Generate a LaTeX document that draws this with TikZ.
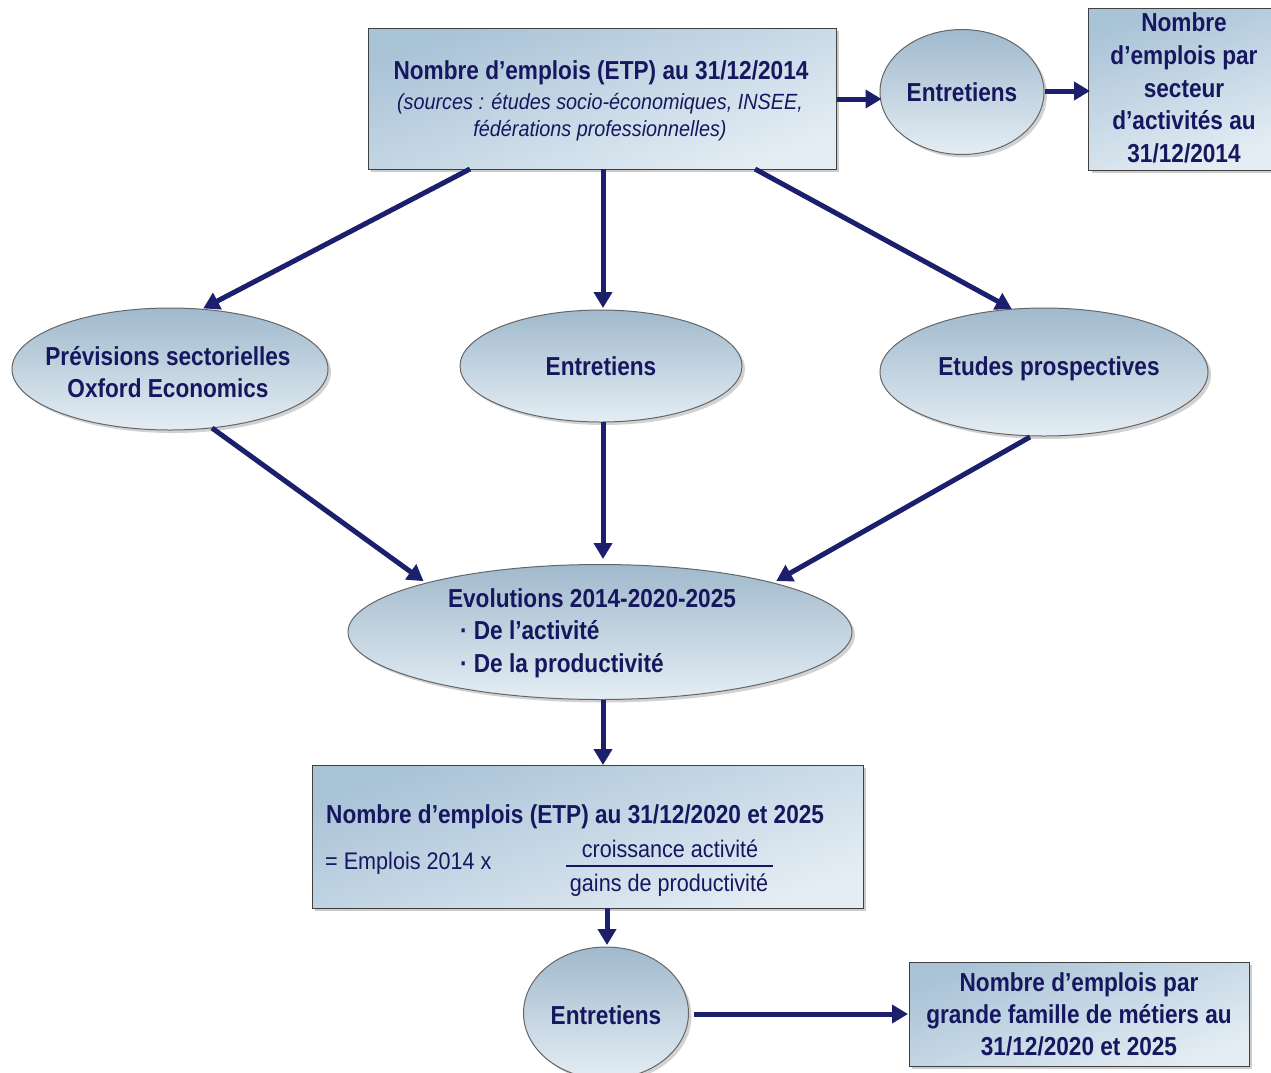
\documentclass[tikz,border=0pt]{standalone}
\usepackage{fontspec}
\setmainfont{Liberation Sans}
\newfontfamily\nb[FakeStretch=0.87]{Liberation Sans}
\newfontfamily\nr[FakeStretch=0.9]{Liberation Sans}
\usetikzlibrary{shapes.geometric,arrows.meta,shadows}
\definecolor{navy}{HTML}{16175E}
\definecolor{arr}{HTML}{1C1F6B}
\definecolor{topc}{HTML}{A9C3D7}
\definecolor{botc}{HTML}{E4EDF4}
\tikzset{
  boxst/.style={draw=black!75, line width=1pt, top color=topc, bottom color=botc, shading angle=20, drop shadow={shadow xshift=3pt, shadow yshift=-3pt, opacity=0.4}, inner sep=0pt},
  ellst/.style={ellipse, draw=black!60, line width=1pt, top color=topc!95!black, bottom color=botc, drop shadow={shadow xshift=3pt, shadow yshift=-3pt, opacity=0.35}, inner sep=0pt},
  txt/.style={text=navy, font=\nb\bfseries\fontsize{26}{33}\selectfont, align=center, inner sep=0pt},
  arrow/.style={draw=arr, line width=5pt, -{Triangle[length=16pt,width=18pt]}, shorten >=-2pt}
}
\begin{document}
\begin{tikzpicture}[x=1pt,y=-1pt]
\useasboundingbox (0,0) rectangle (1271,1072);
\fill[white] (0,0) rectangle (1271,1072);
% top box
\node[boxst, minimum width=468pt, minimum height=141pt] (top) at (602,98.5) {};
\node[txt] (toptxt) at (601,73) {Nombre d’emplois (ETP) au 31/12/2014};
\node[txt, font=\nr\itshape\fontsize{22}{27}\selectfont] (topsrc) at (600,117) {(sources : études socio-économiques, INSEE,\\ fédérations professionnelles)};
% top right
\node[ellst, minimum width=164pt, minimum height=125pt] (ent1) at (962,92) {};
\node[txt] at (ent1) {Entretiens};
\node[boxst, minimum width=185pt, minimum height=162pt] (sect) at (1181,89) {};
\node[txt, font=\nb\bfseries\fontsize{26}{32.6}\selectfont] (secttxt) at (1184,88) {Nombre\\d’emplois par\\secteur\\d’activités au\\31/12/2014};
% middle ellipses
\node[ellst, minimum width=316pt, minimum height=122pt] (prev) at (170,369) {};
\node[txt, font=\nb\bfseries\fontsize{26}{32}\selectfont] at (168,372) {Prévisions sectorielles\\Oxford Economics};
\node[ellst, minimum width=282pt, minimum height=112pt] (ent2) at (601,366) {};
\node[txt] at (ent2) {Entretiens};
\node[ellst, minimum width=328pt, minimum height=128pt] (etud) at (1044,372) {};
\node[txt] at (1049,369) {Etudes prospectives};
% evolutions
\node[ellst, minimum width=504pt, minimum height=135pt] (evo) at (600,632) {};
\node[txt, align=left, font=\nb\bfseries\fontsize{26}{32.5}\selectfont] (evotxt) at (592,633) {Evolutions 2014-2020-2025\\\hspace*{12pt}· De l’activité\\\hspace*{12pt}· De la productivité};
% bottom box
\node[boxst, minimum width=551pt, minimum height=143pt] (bbox) at (587.5,836.5) {};
\node[txt, anchor=west] (btxt) at (326,817) {Nombre d’emplois (ETP) au 31/12/2020 et 2025};
\node[txt, anchor=west, font=\nr\fontsize{24}{26}\selectfont] (beq) at (325,863) {= Emplois 2014 x};
\node[txt, font=\nr\fontsize{24}{26}\selectfont] (bnum) at (670,849) {croissance activité};
\node[txt, font=\nr\fontsize{24}{26}\selectfont] (bden) at (669,885) {gains de productivité};
\draw[navy, line width=1.3pt] (566,866) -- (773,866);
% bottom ellipse + box
\node[ellst, minimum width=165pt, minimum height=132pt] (ent3) at (606,1013) {};
\node[txt] at (606,1015) {Entretiens};
\node[boxst, minimum width=340pt, minimum height=104pt] (fam) at (1079,1014) {};
\node[txt, font=\nb\bfseries\fontsize{26}{32}\selectfont] at (fam) {Nombre d’emplois par\\grande famille de métiers au\\31/12/2020 et 2025};
% arrows
\draw[arrow] (top.east |- 0,99) -- (ent1.west |- 0,99);
\draw[arrow] (ent1.east |- 0,91) -- (sect.west |- 0,91);
\draw[arrow] (470,169) -- (prev.north -| 205,0);
\draw[arrow] (603,169) -- (603,306);
\draw[arrow] (755,169) -- (1010,308);
\draw[arrow] (212,428) -- (422,580);
\draw[arrow] (603,422) -- (603,557);
\draw[arrow] (1030,437) -- (778,580);
\draw[arrow] (603,700) -- (603,763);
\draw[arrow] (607,908) -- (607,943);
\draw[arrow] (694,1014) -- (906,1014);
\end{tikzpicture}
\end{document}
